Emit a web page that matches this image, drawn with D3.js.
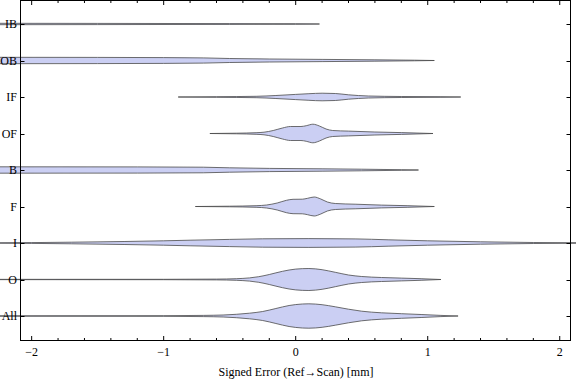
<!DOCTYPE html>
<html><head><meta charset="utf-8">
<script src="https://cdn.jsdelivr.net/npm/d3@7"></script>
<style>body{margin:0;background:#fff}svg{display:block}
text{font-family:"Liberation Serif","Times New Roman",Times,serif;}</style>
</head><body>
<svg id="c" width="576" height="381"></svg>
<script>
const categories = ["IB","OB","IF","OF","B","F","I","O","All"];
// each series: [value (mm), density half-width units]
const IB = [[-2.3,0.7],[-1.5,0.6],[-0.5,0.4],[0.0,0.3],[0.18,0]];
const OB = [[-2.3,3.2],[-1.5,3.1],[-1.0,2.9],[-0.7,2.6],[-0.5,2.0],[-0.2,1.5],[0.2,1.1],[0.6,0.7],[0.9,0.3],[1.05,0]];
const IF = [[-0.89,0],[-0.6,0.3],[-0.3,0.7],[-0.15,1.5],[0,2.6],[0.1,3.3],[0.2,3.8],[0.3,3.5],[0.4,2.2],[0.55,1.0],[0.8,0.5],[1.1,0.3],[1.25,0]];
const OF = [[-0.65,0],[-0.45,0.3],[-0.3,0.8],[-0.24,1.3],[-0.17,3.0],[-0.1,5.5],[-0.04,7.0],[0.04,7.0],[0.08,7.8],[0.13,9.3],[0.18,7.5],[0.23,4.5],[0.28,3.0],[0.4,2.4],[0.6,1.5],[0.8,0.9],[1.04,0]];
const B = [[-2.3,3.2],[-1.2,3.1],[-0.7,2.8],[-0.5,2.2],[-0.2,1.6],[0.2,1.2],[0.5,0.8],[0.8,0.3],[0.93,0]];
const F = [[-0.76,0],[-0.5,0.3],[-0.3,0.8],[-0.22,1.5],[-0.14,3.5],[-0.07,6.2],[-0.02,7.2],[0.05,7.3],[0.09,8.2],[0.14,9.5],[0.19,7.5],[0.24,4.5],[0.3,3.0],[0.45,2.3],[0.65,1.4],[0.85,0.8],[1.05,0]];
const I = [[-2.3,0.2],[-2.0,0.4],[-1.7,0.8],[-1.3,1.5],[-1.0,2.2],[-0.8,2.8],[-0.5,3.6],[-0.25,4.2],[0.1,4.4],[0.45,4.1],[0.7,3.2],[1.0,2.2],[1.4,1.2],[1.8,0.5],[2.2,0.2],[2.3,0.1]];
const O = [[-2.3,0.15],[-1.0,0.2],[-0.6,0.4],[-0.45,0.8],[-0.35,1.6],[-0.28,2.8],[-0.2,5.0],[-0.1,8.2],[0.0,10.4],[0.1,11.0],[0.2,9.8],[0.3,7.2],[0.4,4.5],[0.5,3.0],[0.65,2.0],[0.8,1.4],[0.95,0.8],[1.1,0]];
const All = [[-2.3,0.2],[-1.0,0.3],[-0.7,0.6],[-0.55,1.0],[-0.45,1.7],[-0.35,2.8],[-0.25,4.5],[-0.15,7.5],[-0.05,10.5],[0.05,12],[0.1,12.2],[0.2,11.3],[0.3,9.2],[0.4,6.8],[0.5,4.8],[0.65,3.2],[0.8,2.3],[0.95,1.5],[1.1,0.6],[1.23,0]];
const series = [IB,OB,IF,OF,B,F,I,O,All];
const xMajor = [-2,-1,0,1,2];
const xLabels = ["\u22122","\u22121","0","1","2"];
const xTitle = "Signed Error (Ref\u2192Scan) [mm]";

const svg = d3.select("#c");
const L=20.5, R=570.5, T=0.5, Bm=340.5;
const x = d3.scaleLinear().domain([-2.083,2.083]).range([L+0.2,R+0.2]);
const y = d3.scalePoint().domain(categories).range([24,316]);
const w = d3.scaleLinear().domain([0,10]).range([0,10]);

const g = svg.append("g");
series.forEach((s,i)=>{
  const cy = y(categories[i]);
  const area = d3.area().curve(d3.curveMonotoneX)
    .x(d=>x(d[0])).y0(d=>cy - w(d[1])).y1(d=>cy + w(d[1]));
  g.append("path").attr("d", area(s))
    .attr("fill","#cbcff3").attr("stroke","#4a4a4a").attr("stroke-width",0.8)
    .attr("stroke-linejoin","round");
});

// frame
svg.append("rect").attr("x",L).attr("y",T).attr("width",R-L).attr("height",Bm-T)
  .attr("fill","none").attr("stroke","#000").attr("stroke-width",1);

const minor = d3.range(-20,21,2).map(v=>v/10).filter(v=>!xMajor.some(m=>Math.abs(m-v)<1e-9));
const tk = svg.append("g").attr("stroke","#000").attr("stroke-width",1);
xMajor.forEach(v=>{
  tk.append("line").attr("x1",x(v)).attr("x2",x(v)).attr("y1",Bm).attr("y2",Bm-4.5);
  tk.append("line").attr("x1",x(v)).attr("x2",x(v)).attr("y1",T).attr("y2",T+4.5);
});
minor.forEach(v=>{
  tk.append("line").attr("x1",x(v)).attr("x2",x(v)).attr("y1",Bm).attr("y2",Bm-2.5);
  tk.append("line").attr("x1",x(v)).attr("x2",x(v)).attr("y1",T).attr("y2",T+2.5);
});
categories.forEach(c=>{
  const cy = Math.round(y(c))+0.5;
  tk.append("line").attr("x1",L).attr("x2",L+4).attr("y1",cy).attr("y2",cy);
  tk.append("line").attr("x1",R).attr("x2",R-4).attr("y1",cy).attr("y2",cy);
});

xMajor.forEach((v,i)=>{
  svg.append("text").attr("x",x(v)).attr("y",356).attr("text-anchor","middle")
    .attr("font-size",12).attr("fill","#000").text(xLabels[i]);
});
categories.forEach(c=>{
  svg.append("text").attr("x",17).attr("y",y(c)+4).attr("text-anchor","end")
    .attr("font-size",12).attr("fill","#000").text(c);
});
svg.append("text").attr("x",296).attr("y",376).attr("text-anchor","middle")
  .attr("font-size",12).attr("fill","#000").text(xTitle);
</script>
</body></html>
